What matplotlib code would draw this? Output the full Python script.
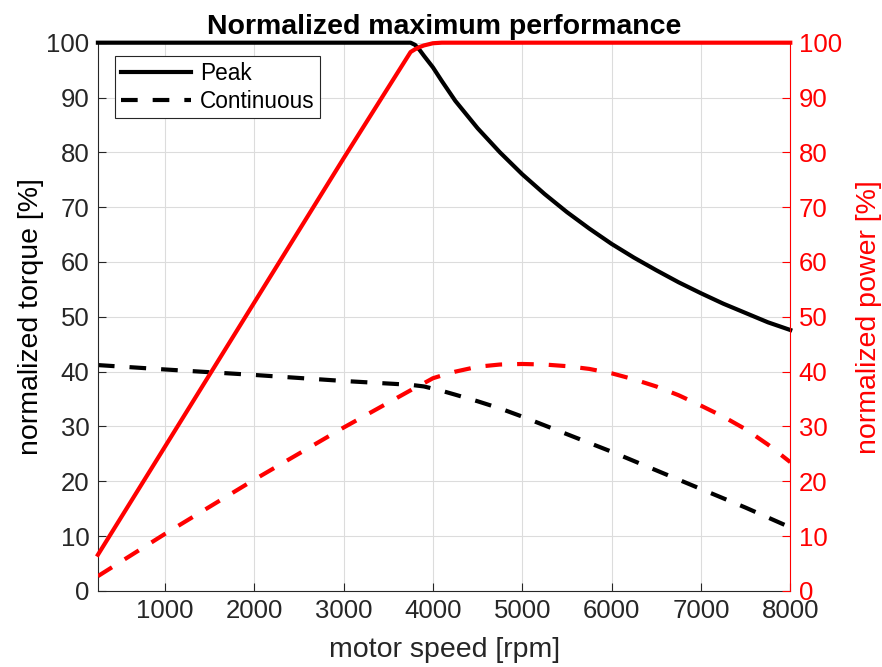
import matplotlib
matplotlib.use("Agg")
from matplotlib import pyplot as plt

plt.rcParams['font.family'] = ['Liberation Sans', 'DejaVu Sans']

# motor speed [rpm]
speed = [250, 1000, 2000, 3000, 3750, 3800, 3850, 3900, 4000, 4100, 4250,
         4500, 4750, 5000, 5250, 5500, 5750, 6000, 6250, 6500, 6750,
         7000, 7250, 7500, 7750, 8000]

# normalized torque [%]
torque_peak = [100, 100, 100, 100, 100, 99.6, 98.7, 97.6, 95.5, 93.0, 89.4,
               84.4, 80.0, 76.0, 72.4, 69.1, 66.1, 63.3, 60.8, 58.5, 56.3,
               54.3, 52.4, 50.7, 49.0, 47.6]
torque_cont = [41.2, 40.4, 39.4, 38.3, 37.6, 37.5, 37.4, 37.3, 36.9, 36.5, 35.8,
               34.6, 33.3, 31.8, 30.2, 28.6, 27.0, 25.4, 23.7, 22.0, 20.3,
               18.6, 16.9, 15.2, 13.4, 11.6]

# normalized power [%]
power_peak = [6.6, 26.3, 52.6, 78.9, 98.3, 98.8, 99.2, 99.5, 99.9, 100, 100,
              100, 100, 100, 100, 100, 100, 100, 100, 100, 100,
              100, 100, 100, 100, 100]
power_cont = [2.7, 10.4, 20.3, 29.8, 36.6, 37.1, 37.5, 37.9, 38.8, 39.3, 40.0,
              40.9, 41.3, 41.4, 41.3, 41.0, 40.5, 39.7, 38.6, 37.3, 35.7,
              33.8, 31.8, 29.5, 26.7, 23.5]

xticks = [1000, 2000, 3000, 4000, 5000, 6000, 7000, 8000]
yticks = list(range(0, 101, 10))

tick_color = '#262626'
fs_tick = 18.5
fs_lab = 20.5
dash = (0, (4.0, 3.6))

fig = plt.figure(figsize=(8.82, 6.67), dpi=100)
ax1 = fig.add_axes([0.111, 0.114, 0.785, 0.822])
ax2 = ax1.twinx()

l1, = ax1.plot(speed, torque_peak, color='black', lw=3, label='Peak',
               clip_on=False, zorder=3)
l2, = ax1.plot(speed, torque_cont, color='black', lw=3, ls=dash,
               label='Continuous')
ax2.plot(speed, power_peak, color='red', lw=3, clip_on=False)
ax2.plot(speed, power_cont, color='red', lw=3, ls=dash)

for ax in (ax1, ax2):
    ax.set_xlim(250, 8000)
    ax.set_ylim(0, 100)
    ax.set_yticks(yticks)
    ax.spines['top'].set_visible(False)

ax1.set_xticks(xticks)
ax1.grid(True, color='#dcdcdc', lw=0.8)
ax1.set_axisbelow(True)
ax1.tick_params(direction='in', length=6, labelsize=fs_tick, colors=tick_color, pad=6)
ax1.spines['left'].set_color(tick_color)
ax1.spines['bottom'].set_color(tick_color)
ax1.spines['right'].set_visible(False)
ax2.spines['left'].set_visible(False)
ax2.spines['bottom'].set_visible(False)
ax2.spines['right'].set_color('red')
ax2.tick_params(direction='in', length=6, labelsize=fs_tick, colors='red', pad=6)

ax1.set_xlabel('motor speed [rpm]', fontsize=fs_lab, color=tick_color, labelpad=10)
ax1.set_ylabel('normalized torque [%]', fontsize=fs_lab, color='black', labelpad=2)
ax2.set_ylabel('normalized power [%]', fontsize=fs_lab, color='red', labelpad=10)
ax1.set_title('Normalized maximum performance', fontsize=fs_lab, fontweight='bold',
              pad=6)

leg = ax1.legend(handles=[l1, l2], loc='upper left', fontsize=16.3,
                 bbox_to_anchor=(0.025, 0.975), fancybox=False, framealpha=1,
                 edgecolor=tick_color, handlelength=3.1, borderpad=0.25,
                 labelspacing=0.2, handletextpad=0.4, borderaxespad=0)
leg.get_frame().set_linewidth(0.8)

fig.savefig('out.png', dpi=100)
